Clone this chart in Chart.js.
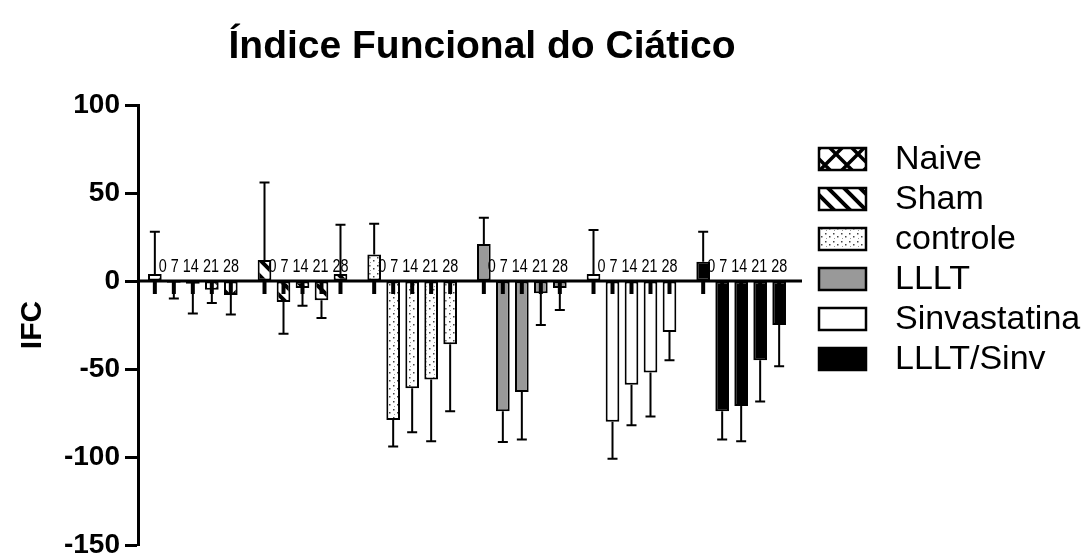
<!DOCTYPE html>
<html>
<head>
<meta charset="utf-8">
<title>Índice Funcional do Ciático</title>
<script src="https://cdn.jsdelivr.net/npm/chart.js@4.4.1/dist/chart.umd.min.js"></script>
<style>
  html, body { margin: 0; padding: 0; background: #fff; }
</style>
</head>
<body>
<canvas id="ifcChart" width="1088" height="553"></canvas>
<script>
const groups = ['Naive', 'Sham', 'controle', 'LLLT', 'Sinvastatina', 'LLLT/Sinv'];
const days = ['0', '7', '14', '21', '28'];

// mean IFC for days 0, 7, 14, 21, 28
const naive = [4, -1, -1.5, -5, -8];
const sham = [12, -12, -4, -11, 4];
const controle = [15, -79, -61, -56, -36];
const lllt = [21, -74, -63, -7, -4];
const sinvastatina = [4, -80, -59, -52, -29];
const llltSinv = [11, -74, -71, -45, -25];

// error bar length (one-sided, away from zero)
const naiveErr = [24, 9, 17, 7.5, 11];
const shamErr = [44, 18, 10, 10, 28];
const controleErr = [17.5, 15, 25, 35, 38];
const llltErr = [15, 17.5, 27, 18, 12.5];
const sinvastatinaErr = [25, 21, 23, 25, 16];
const llltSinvErr = [17, 16, 20, 23.5, 23.5];

const yTicks = [-150, -100, -50, 0, 50, 100];

const means = [naive, sham, controle, lllt, sinvastatina, llltSinv];
const errs = [naiveErr, shamErr, controleErr, llltErr, sinvastatinaErr, llltSinvErr];

const FONT = "'Liberation Sans', Arial, sans-serif";

function makePattern(size, paint) {
  const c = document.createElement('canvas');
  c.width = size; c.height = size;
  const g = c.getContext('2d');
  g.fillStyle = '#fff';
  g.fillRect(0, 0, size, size);
  paint(g, size);
  return c.getContext('2d').createPattern(c, 'repeat');
}

const crossFill = makePattern(22, (g, s) => {
  g.strokeStyle = '#000'; g.lineWidth = 3.5;
  g.beginPath();
  g.moveTo(-2, -2); g.lineTo(s + 2, s + 2);
  g.moveTo(s + 2, -2); g.lineTo(-2, s + 2);
  g.stroke();
});
const stripeFill = makePattern(16, (g, s) => {
  g.strokeStyle = '#000'; g.lineWidth = 4;
  g.beginPath();
  g.moveTo(-s, 0); g.lineTo(2 * s, 3 * s);
  g.moveTo(0, -s); g.lineTo(2 * s, s);
  g.moveTo(-s, -s); g.lineTo(s, s);
  g.moveTo(-2 * s, -s); g.lineTo(s, 2 * s);
  g.stroke();
});
const dotFill = makePattern(8, (g, s) => {
  g.fillStyle = '#444';
  g.fillRect(1, 1, 1.5, 1.5);
  g.fillRect(5, 4, 1.5, 1.5);
  g.fillStyle = '#999';
  g.fillRect(2, 6, 1, 1);
});

const groupFills = [crossFill, stripeFill, dotFill, '#999999', '#ffffff', '#000000'];

const extras = {
  id: 'prismExtras',
  afterDatasetsDraw(chart) {
    const ctx = chart.ctx;
    const y = chart.scales.y;
    const area = chart.chartArea;
    const y0 = y.getPixelForValue(0);
    ctx.save();

    // error bars
    ctx.strokeStyle = '#000';
    ctx.lineWidth = 2;
    days.forEach((d, j) => {
      chart.getDatasetMeta(j).data.forEach((bar, i) => {
        const v = means[i][j];
        const e = errs[i][j];
        const yEnd = y.getPixelForValue(v >= 0 ? v + e : v - e);
        ctx.beginPath();
        ctx.moveTo(bar.x, bar.y);
        ctx.lineTo(bar.x, yEnd);
        ctx.moveTo(bar.x - 5, yEnd);
        ctx.lineTo(bar.x + 5, yEnd);
        ctx.stroke();
      });
    });

    // x axis at zero with downward ticks
    ctx.lineWidth = 3;
    ctx.beginPath();
    ctx.moveTo(area.left, y0);
    ctx.lineTo(area.right + 6, y0);
    ctx.stroke();
    ctx.lineWidth = 4;
    days.forEach((d, j) => {
      chart.getDatasetMeta(j).data.forEach(bar => {
        ctx.beginPath();
        ctx.moveTo(bar.x, y0);
        ctx.lineTo(bar.x, y0 + 13);
        ctx.stroke();
      });
    });

    // day labels above the axis, one condensed line per group
    ctx.fillStyle = '#000';
    ctx.font = '18px ' + FONT;
    ctx.textAlign = 'left';
    ctx.textBaseline = 'alphabetic';
    const firstBars = chart.getDatasetMeta(0).data;
    firstBars.forEach(bar => {
      ctx.save();
      ctx.translate(bar.x + 4, y0 - 9);
      ctx.scale(0.8, 1);
      ctx.fillText(days.join(' '), 0, 0);
      ctx.restore();
    });

    // title
    ctx.textAlign = 'center';
    ctx.font = 'bold 39px ' + FONT;
    ctx.fillText('Índice Funcional do Ciático', 482, 58);

    // legend
    ctx.textAlign = 'left';
    ctx.textBaseline = 'middle';
    ctx.font = '34px ' + FONT;
    groups.forEach((name, i) => {
      const cy = 159 + i * 40;
      ctx.fillStyle = groupFills[i];
      ctx.fillRect(819, cy - 11, 47, 22);
      ctx.lineWidth = 2.5;
      ctx.strokeRect(819, cy - 11, 47, 22);
      ctx.fillStyle = '#000';
      ctx.fillText(name, 895, cy + 1);
    });
    ctx.restore();
  }
};

new Chart(document.getElementById('ifcChart'), {
  type: 'bar',
  data: {
    labels: groups,
    datasets: days.map((d, j) => ({
      label: d,
      data: means.map(g => g[j]),
      backgroundColor: groupFills,
      borderColor: '#000',
      borderWidth: 2,
      borderSkipped: false,
      categoryPercentage: 0.866,
      barPercentage: 0.72
    }))
  },
  plugins: [extras],
  options: {
    responsive: false,
    animation: false,
    events: [],
    layout: { padding: { top: 105, bottom: 8, left: 0, right: 292 } },
    plugins: {
      legend: { display: false },
      title: { display: false },
      tooltip: { enabled: false }
    },
    scales: {
      x: { type: 'category', display: false },
      y: {
        min: yTicks[0],
        max: yTicks[yTicks.length - 1],
        afterBuildTicks: scale => { scale.ticks = yTicks.map(v => ({ value: v })); },
        afterFit: scale => {
          scale.width = 138;
          scale.paddingTop = 0;
          scale.paddingBottom = 0;
        },
        ticks: {
          color: '#000',
          padding: 5,
          font: { family: FONT, size: 28, weight: 'bold' }
        },
        grid: { drawOnChartArea: false, drawTicks: true, tickLength: 13, tickWidth: 3, tickColor: '#000' },
        border: { display: true, width: 3, color: '#000' },
        title: {
          display: true,
          text: 'IFC',
          color: '#000',
          padding: { top: 15, bottom: 0 },
          font: { family: FONT, size: 30, weight: 'bold' }
        }
      }
    }
  }
});
</script>
</body>
</html>
